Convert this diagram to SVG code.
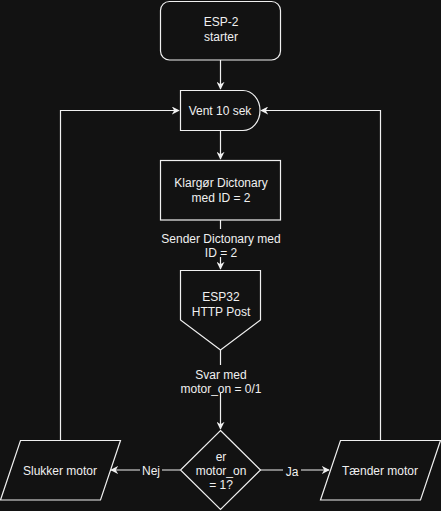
<svg xmlns="http://www.w3.org/2000/svg" width="441" height="511" viewBox="0 0 441 511">
<style>
.n{fill:#121212;stroke:#f0f0f0;stroke-width:1.2}
.e{fill:none;stroke:#f0f0f0;stroke-width:1.2}
text{font-family:"Liberation Sans",Arial,sans-serif;font-size:12px;fill:#f0f0f0;text-anchor:middle}
.lb{fill:#121212}
</style>
<defs>
<marker id="a" viewBox="0 0 10 10" refX="9" refY="5" markerWidth="8" markerHeight="8" orient="auto" markerUnits="userSpaceOnUse">
<path d="M0,0 L10,5 L0,10 L3,5 z" fill="#f0f0f0"/>
</marker>
</defs>
<rect width="441" height="511" fill="#121212"/>
<g id="connectors">
<path class="e" d="M220.5,60 V89" marker-end="url(#a)"/>
<path class="e" d="M220.5,130 V159" marker-end="url(#a)"/>
<path class="e" d="M220.5,220 V269" marker-end="url(#a)"/>
<rect class="lb" x="164" y="229" width="114" height="28"/>
<text x="221" y="243">Sender Dictonary med</text>
<text x="221" y="257">ID = 2</text>
<path class="e" d="M220.5,350 V429" marker-end="url(#a)"/>
<rect class="lb" x="182" y="365" width="78" height="28"/>
<text x="221" y="379">Svar med</text>
<text x="221" y="393">motor_on = 0/1</text>
<path class="e" d="M180,470 H111" marker-end="url(#a)"/>
<rect class="lb" x="140" y="463" width="22" height="15"/>
<text x="151" y="475">Nej</text>
<path class="e" d="M260,470 H329" marker-end="url(#a)"/>
<rect class="lb" x="283" y="463" width="18" height="15"/>
<text x="292" y="476">Ja</text>
<path class="e" d="M60.5,440 V110.5 H179" marker-end="url(#a)"/>
<path class="e" d="M380.5,440 V110.5 H261" marker-end="url(#a)"/>
</g>
<g id="start">
<rect class="n" x="160.5" y="1.5" width="120" height="58.5" rx="9"/>
<text x="221" y="26">ESP-2</text>
<text x="221" y="41">starter</text>
</g>
<g id="vent">
<path class="n" d="M180.5,90.5 H243 A17,20 0 0 1 243,130.5 H180.5 Z"/>
<text x="220" y="115">Vent 10 sek</text>
</g>
<g id="klargoer">
<rect class="n" x="160.5" y="160.5" width="120" height="59.5"/>
<text x="221" y="187">Klargør Dictonary</text>
<text x="221" y="202">med ID = 2</text>
</g>
<g id="esp32">
<path class="n" d="M180.5,270.5 H260.5 V320 L220.5,350 L180.5,320 Z"/>
<text x="221" y="301">ESP32</text>
<text x="221" y="316">HTTP Post</text>
</g>
<g id="decision">
<path class="n" d="M220.5,430.5 L260.5,470 L220.5,509.5 L180.5,470 Z"/>
<text x="221" y="461">er</text>
<text x="221" y="475">motor_on</text>
<text x="221" y="489">= 1?</text>
</g>
<g id="slukker">
<path class="n" d="M20.5,440.5 H120.5 L100.5,500 H0.5 Z"/>
<text x="60" y="475">Slukker motor</text>
</g>
<g id="taender">
<path class="n" d="M340.5,440.5 H440.5 L420.5,500 H320.5 Z"/>
<text x="380" y="475">Tænder motor</text>
</g>
</svg>
